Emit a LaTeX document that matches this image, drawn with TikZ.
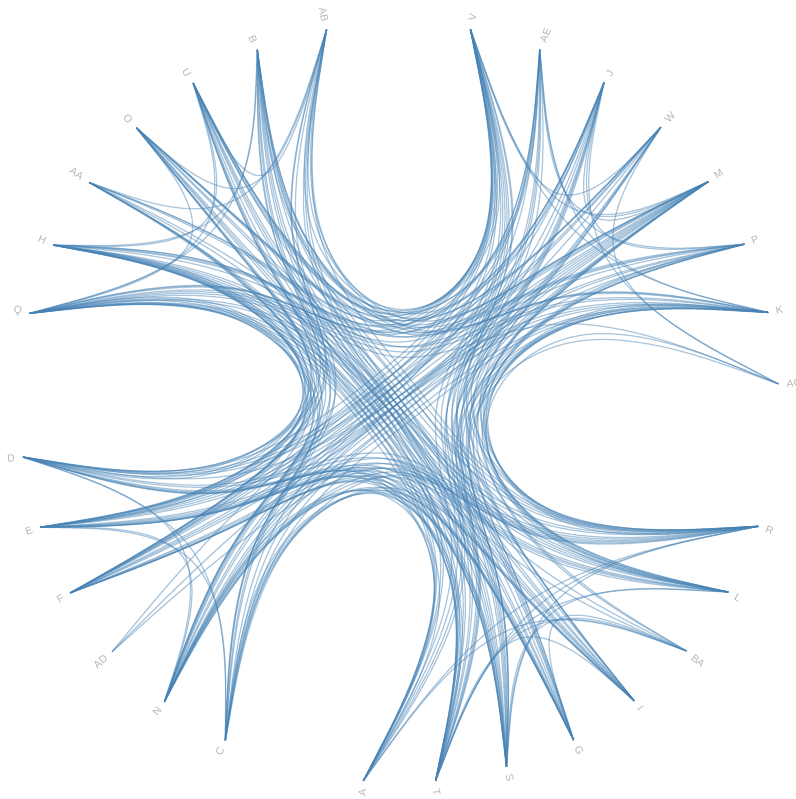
\documentclass[tikz,border=0pt]{standalone}
\usepackage{fontspec}
\setmainfont{Liberation Sans}
\usetikzlibrary{calc}
\definecolor{steelblue}{HTML}{4682B4}
\definecolor{labelgray}{HTML}{B4B4B4}

% Lien regroupé : spline de base passant par les groupes (beta = 0.85)
\newcommand{\bundlelink}[2]{%
  \edef\grpa{\csname grp@#1\endcsname}%
  \edef\grpb{\csname grp@#2\endcsname}%
  \ifx\grpa\grpb
    \path ($($(#1)!0.5!(#2)$)!0.85!(\grpa)$) coordinate (p1);
    \draw[link] (#1) -- ($(#1)!0.1667!(p1)$)
      .. controls ($(#1)!0.3333!(p1)$) and ($(#1)!0.6667!(p1)$) .. ($0.1667*(#1)+0.6667*(p1)+0.1667*(#2)$)
      .. controls ($(p1)!0.3333!(#2)$) and ($(p1)!0.6667!(#2)$) .. ($(#2)!0.1667!(p1)$) -- (#2);
  \else
    \path ($($(#1)!0.25!(#2)$)!0.85!(\grpa)$) coordinate (p1)
          ($($(#1)!0.5!(#2)$)!0.85!(hub)$) coordinate (p2)
          ($($(#1)!0.75!(#2)$)!0.85!(\grpb)$) coordinate (p3);
    \draw[link] (#1) -- ($(#1)!0.1667!(p1)$)
      .. controls ($(#1)!0.3333!(p1)$) and ($(#1)!0.6667!(p1)$) .. ($0.1667*(#1)+0.6667*(p1)+0.1667*(p2)$)
      .. controls ($(p1)!0.3333!(p2)$) and ($(p1)!0.6667!(p2)$) .. ($0.1667*(p1)+0.6667*(p2)+0.1667*(p3)$)
      .. controls ($(p2)!0.3333!(p3)$) and ($(p2)!0.6667!(p3)$) .. ($0.1667*(p2)+0.6667*(p3)+0.1667*(#2)$)
      .. controls ($(p3)!0.3333!(#2)$) and ($(p3)!0.6667!(#2)$) .. ($(#2)!0.1667!(p3)$) -- (#2);
  \fi}

\begin{document}
\begin{tikzpicture}[
    x=1pt, y=1pt,
    link/.style={draw=steelblue, draw opacity=0.45, line width=1.25pt}, % liens
    leaflabel/.style={text=labelgray, inner sep=0pt, font=\fontsize{10.5}{12}\selectfont} % étiquettes
]
\useasboundingbox (-399,-396.5) rectangle (396,402.5);
% Racine et groupes
\coordinate (hub) at (0,0);
\coordinate (grp1) at ({2.8+3.5*360/33}:190);
\coordinate (grp2) at ({2.8+12*360/33}:190);
\coordinate (grp3) at ({2.8+19.5*360/33}:190);
\coordinate (grp4) at ({2.8+27.5*360/33}:190);
% Feuilles
\foreach \leaf/\slot/\grp in {AC/0/grp1, K/1/grp1, P/2/grp1, M/3/grp1, W/4/grp1, J/5/grp1, AE/6/grp1, V/7/grp1,
    AB/9/grp2, B/10/grp2, U/11/grp2, O/12/grp2, AA/13/grp2, H/14/grp2, Q/15/grp2,
    D/17/grp3, E/18/grp3, F/19/grp3, AD/20/grp3, N/21/grp3, C/22/grp3,
    A/24/grp4, T/25/grp4, S/26/grp4, G/27/grp4, I/28/grp4, BA/29/grp4, L/30/grp4, R/31/grp4}
{
    \pgfmathsetmacro{\ang}{2.8+\slot*360/33}
    \pgfmathsetmacro{\flip}{(\ang>90)*(\ang<270)}
    \coordinate (\leaf) at (\ang:380);
    \expandafter\xdef\csname grp@\leaf\endcsname{\grp}
    \ifdim\flip pt>0.5pt
        \node[leaflabel, anchor=east, rotate=\ang-180] (lbl\leaf) at (\ang:388) {\leaf};
    \else
        \node[leaflabel, anchor=west, rotate=\ang] (lbl\leaf) at (\ang:388) {\leaf};
    \fi
}
% Liens
\foreach \src/\dests in {
    V/{K,M,W,AB,B,U,O,AA,H,Q,D,E,F,N,C,A,T,S,G,I,L,R},
    AE/{K,M,P,B,U,H,Q,E,F,N,T,S,G,R},
    J/{M,P,AC,AB,O,AA,Q,D,F,C,A,S,G,I,L},
    W/{AC,B,U,H,D,E,N,T,S,I,R},
    M/{AB,U,O,H,Q,D,E,F,N,C,A,T,G,L,R,BA,AD},
    P/{B,O,AA,Q,E,F,N,T,S,I,L,R},
    K/{AB,U,H,Q,B,D,E,F,C,N,A,T,S,G,L,R,BA},
    AC/{Q,S,L},
    AB/{U,O,AA,D,E,N,T,S,G,R},
    B/{H,Q,D,F,C,N,A,T,S,I,L,R},
    U/{Q,H,E,F,N,C,A,S,G,I,R},
    O/{Q,D,E,F,N,T,S,G,L,R},
    AA/{E,F,C,A,T,I,L},
    H/{D,E,F,N,C,A,T,S,G,I,L,R,BA,AD},
    Q/{D,E,F,N,C,A,T,S,G,I,L,R},
    D/{N,C,A,T,S,G,I,L,R},
    E/{C,N,A,T,S,G,I,L,R,BA},
    F/{T,S,G,I,L,R},
    AD/{R},
    N/{A,T,S,G,L,R},
    C/{T,S,G,I,R},
    R/{T,A,S},
    L/{S,T},
    BA/{G,S,T,A},
    I/{T}}
{
    \foreach \dst in \dests {\bundlelink{\src}{\dst}}
}
\end{tikzpicture}
\end{document}
